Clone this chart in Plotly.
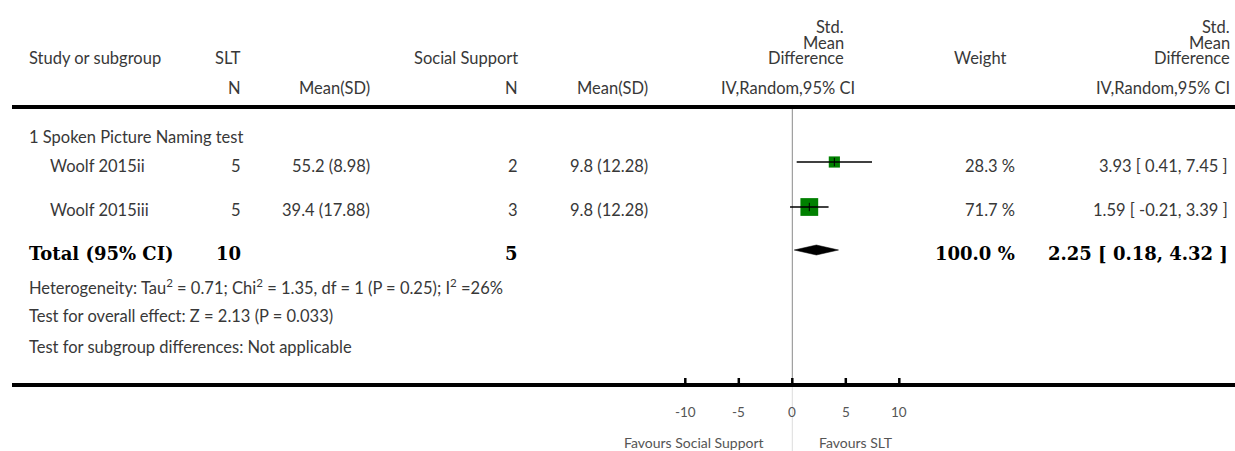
import math
import plotly.graph_objects as go

# ---------------- data ----------------
subgroup_title = "1 Spoken Picture Naming test"
studies = ["Woolf 2015ii", "Woolf 2015iii"]
slt_n = [5, 5]
slt_mean = [55.2, 39.4]
slt_sd = [8.98, 17.88]
ss_n = [2, 3]
ss_mean = [9.8, 9.8]
ss_sd = [12.28, 12.28]
smd = [3.93, 1.59]
ci_lo = [0.41, -0.21]
ci_hi = [7.45, 3.39]
weight = [28.3, 71.7]

total_slt_n = 10
total_ss_n = 5
total_smd = 2.25
total_lo = 0.18
total_hi = 4.32
total_weight = 100.0

footer_lines = [
    "Heterogeneity: Tau<sup>2</sup> = 0.71; Chi<sup>2</sup> = 1.35, df = 1 (P = 0.25); I<sup>2</sup> =26%",
    "Test for overall effect: Z = 2.13 (P = 0.033)",
    "Test for subgroup differences: Not applicable",
]
tick_vals = [-10, -5, 0, 5, 10]
tick_text = ["-10", "-5", "0", "5", "10"]
favours_left = "Favours Social Support"
favours_right = "Favours SLT"

# ---------------- layout geometry (pixels) ----------------
W, H = 1235, 451
ZERO_PX = 792.3
PX_PER_UNIT = 10.7
x_range = [-ZERO_PX / PX_PER_UNIT, (W - ZERO_PX) / PX_PER_UNIT]

BODY = "Lato"
BOLD = "DejaVu Serif"
TXT = "#383838"
GRAY = "#555555"
FS = 16.5

y_std, y_mean, y_hdr1, y_hdr2, y_hline = 27, 43, 58, 88, 107
y_title = 137
y_rows_text = [166, 210]
y_rows_mark = [162, 207]
y_total_text, y_total_mark = 253, 250
y_footer = [287, 316, 347]
y_axis = 385
y_ticklab = 412
y_favours = 442

c_study = 27
c_study_ind = 48
c_n1 = 243
c_m1 = 372
c_n2 = 520
c_m2 = 650
c_plot_hdr = 846
c_plot_sub = 857
c_weight_hdr = 1008
c_weight = 1017
c_est_hdr = 1232
c_est = 1230

fig = go.Figure()
annotations = []


def px(x):
    return x / W


def txt(x, y, text, anchor="left", size=FS, color=TXT, family=BODY, ref="paper"):
    annotations.append(dict(
        x=px(x) if ref == "paper" else x, y=y, xref=ref, yref="y", text=text,
        showarrow=False, xanchor=anchor, yanchor="middle",
        font=dict(family=family, size=size, color=color)))


# header
txt(c_study, y_hdr1, "Study or subgroup")
txt(c_n1, y_hdr1, "SLT", "right")
txt(c_n2, y_hdr1, "Social Support", "right")
for yy, t in zip([y_std, y_mean, y_hdr1], ["Std.", "Mean", "Difference"]):
    txt(c_plot_hdr, yy, t, "right")
    txt(c_est_hdr, yy, t, "right")
txt(c_weight_hdr, y_hdr1, "Weight", "right")
txt(c_n1, y_hdr2, "N", "right")
txt(c_m1, y_hdr2, "Mean(SD)", "right")
txt(c_n2, y_hdr2, "N", "right")
txt(c_m2, y_hdr2, "Mean(SD)", "right")
txt(c_plot_sub, y_hdr2, "IV,Random,95% CI", "right")
txt(c_est_hdr, y_hdr2, "IV,Random,95% CI", "right")

# subgroup title
txt(c_study, y_title, subgroup_title)

# study rows
for i, s in enumerate(studies):
    yy = y_rows_text[i]
    txt(c_study_ind, yy, s)
    txt(c_n1, yy, str(slt_n[i]), "right")
    txt(c_m1, yy, f"{slt_mean[i]} ({slt_sd[i]})", "right")
    txt(c_n2, yy, str(ss_n[i]), "right")
    txt(c_m2, yy, f"{ss_mean[i]} ({ss_sd[i]})", "right")
    txt(c_weight, yy, f"{weight[i]:.1f} %", "right")
    txt(c_est, yy, f"{smd[i]:.2f} [ {ci_lo[i]:.2f}, {ci_hi[i]:.2f} ]", "right")

# total row
BFS = 18
txt(c_study, y_total_text, "<b>Total (95% CI)</b>", size=BFS, color="black", family=BOLD)
txt(c_n1, y_total_text, f"<b>{total_slt_n}</b>", "right", size=BFS, color="black", family=BOLD)
txt(c_n2, y_total_text, f"<b>{total_ss_n}</b>", "right", size=BFS, color="black", family=BOLD)
txt(c_weight, y_total_text, f"<b>{total_weight:.1f} %</b>", "right", size=BFS, color="black", family=BOLD)
txt(c_est, y_total_text, f"<b>{total_smd:.2f} [ {total_lo:.2f}, {total_hi:.2f} ]</b>", "right",
    size=BFS, color="black", family=BOLD)

# footer
for yy, t in zip(y_footer, footer_lines):
    txt(c_study, yy, t)

# tick labels and favours labels (data coords)
for v, t in zip(tick_vals, tick_text):
    txt(v, y_ticklab, t, "center", size=13.5, color=GRAY, ref="x")
annotations.append(dict(x=0, y=y_favours, xref="x", yref="y", text=favours_left, showarrow=False,
                        xanchor="right", yanchor="middle", xshift=-26,
                        font=dict(family=BODY, size=14, color=GRAY)))
annotations.append(dict(x=0, y=y_favours, xref="x", yref="y", text=favours_right, showarrow=False,
                        xanchor="left", yanchor="middle", xshift=25,
                        font=dict(family=BODY, size=14, color=GRAY)))

# shapes
shapes = [
    dict(type="line", xref="paper", yref="y", x0=px(12), x1=1, y0=y_hline, y1=y_hline,
         line=dict(color="black", width=4)),
    dict(type="line", xref="paper", yref="y", x0=px(12), x1=1, y0=y_axis, y1=y_axis,
         line=dict(color="black", width=4)),
    dict(type="line", xref="x", yref="y", x0=0, x1=0, y0=y_hline, y1=y_axis,
         line=dict(color="#8a8a8a", width=1), layer="below"),
    dict(type="line", xref="x", yref="y", x0=0, x1=0, y0=y_axis, y1=H,
         line=dict(color="#dddddd", width=1), layer="below"),
]
for v in tick_vals:
    shapes.append(dict(type="line", xref="x", yref="y", x0=v, x1=v, y0=y_axis - 7, y1=y_axis,
                       line=dict(color="black", width=2.5)))

# study markers (squares sized by weight)
fig.add_trace(go.Scatter(
    x=smd, y=y_rows_mark, mode="markers",
    marker=dict(symbol="square", color="#008000", size=[2.1 * math.sqrt(w) for w in weight],
                opacity=1, line=dict(width=0)),
    hoverinfo="skip", showlegend=False))
# CI lines
for i in range(len(studies)):
    fig.add_trace(go.Scatter(
        x=[ci_lo[i], ci_hi[i]], y=[y_rows_mark[i], y_rows_mark[i]], mode="lines",
        line=dict(color="black", width=1.3), hoverinfo="skip", showlegend=False))
# point-estimate ticks
fig.add_trace(go.Scatter(
    x=smd, y=y_rows_mark, mode="markers",
    marker=dict(symbol="line-ns", size=6, line=dict(color="black", width=1)),
    hoverinfo="skip", showlegend=False))
# diamond
dh = 5
fig.add_trace(go.Scatter(
    x=[total_lo, total_smd, total_hi, total_smd, total_lo],
    y=[y_total_mark, y_total_mark - dh, y_total_mark, y_total_mark + dh, y_total_mark],
    mode="lines", fill="toself", fillcolor="black", line=dict(color="black", width=0.5),
    hoverinfo="skip", showlegend=False))

fig.update_layout(
    width=W, height=H, margin=dict(l=0, r=0, t=0, b=0),
    paper_bgcolor="white", plot_bgcolor="white",
    xaxis=dict(range=x_range, domain=[0, 1], visible=False, fixedrange=True),
    yaxis=dict(range=[H, 0], domain=[0, 1], visible=False, fixedrange=True),
    annotations=annotations, shapes=shapes,
    font=dict(family=BODY, size=FS, color=TXT),
)

fig.write_html(
    "out.html",
    config={"displayModeBar": False},
    post_script="document.body.style.margin='0px';document.body.style.overflow='hidden';",
)
